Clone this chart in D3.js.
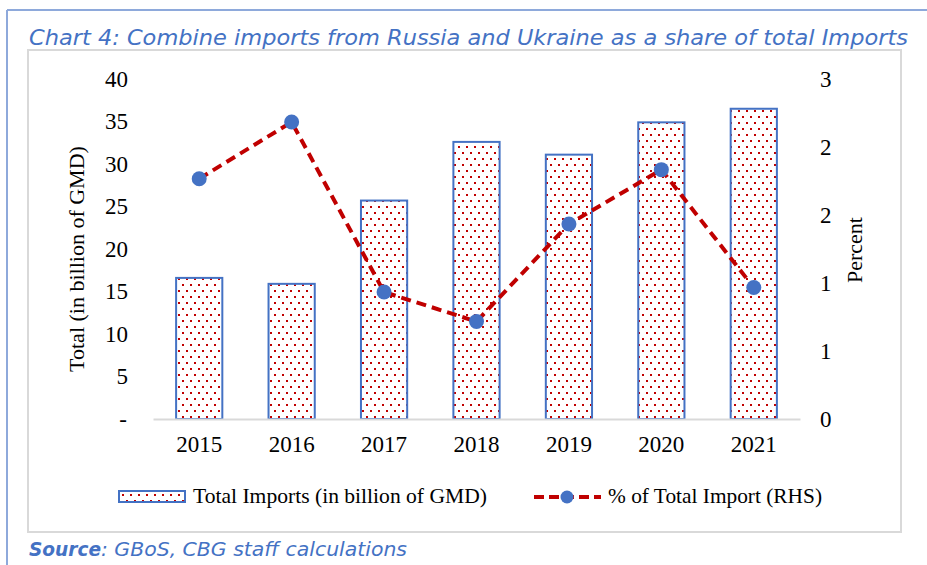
<!DOCTYPE html>
<html>
<head>
<meta charset="utf-8">
<script src="https://cdn.jsdelivr.net/npm/d3@7"></script>
<style>
  body { margin: 0; background: #fff; }
  svg { display: block; }
</style>
</head>
<body>
<svg id="wrapper"></svg>
<script>
//chart data
let years = ['2015','2016','2017','2018','2019','2020','2021'];
let totalImports = [16.6, 15.9, 25.7, 32.6, 31.1, 34.9, 36.5];
let shareImports = [2.12, 2.62, 1.12, 0.86, 1.72, 2.20, 1.16];
let leftTicks = [0,5,10,15,20,25,30,35,40];
let rightTicks = [0,0.6,1.2,1.8,2.4,3.0];

let width = 927, height = 565;
let blue = '#4472C4', red = '#C00000', grey = '#D9D9D9';
let serif = '"Liberation Serif","Times New Roman",serif';

let svg = d3.select('#wrapper')
  .attr('width',width)
  .attr('height',height);

//dotted fill pattern for bars
let defs = svg.append('defs');
let pat = defs.append('pattern')
  .attr('id','dots')
  .attr('patternUnits','userSpaceOnUse')
  .attr('width',8)
  .attr('height',12);
pat.append('rect').attr('width',8).attr('height',12).attr('fill','#fff');
pat.append('rect').attr('x',2).attr('y',2).attr('width',2).attr('height',2).attr('fill',red);
pat.append('rect').attr('x',6).attr('y',8).attr('width',2).attr('height',2).attr('fill',red);

//outer frame lines
svg.append('line')
  .attr('x1',7).attr('x2',width).attr('y1',10).attr('y2',10)
  .attr('stroke','#8EA9DB').attr('stroke-width',2);
svg.append('line')
  .attr('x1',7).attr('x2',7).attr('y1',10).attr('y2',height)
  .attr('stroke','#8EA9DB').attr('stroke-width',2);

//inner chart box
svg.append('rect')
  .attr('x',28).attr('y',50).attr('width',873).attr('height',482)
  .attr('fill','#fff').attr('stroke',grey).attr('stroke-width',2);

//title
svg.append('text')
  .attr('x',29).attr('y',45)
  .attr('textLength',879).attr('lengthAdjust','spacingAndGlyphs')
  .style('font-family','"DejaVu Sans",sans-serif')
  .style('font-style','italic')
  .style('font-size','21px')
  .attr('fill',blue)
  .text('Chart 4: Combine imports from Russia and Ukraine as a share of total Imports');

//source
let src = svg.append('text')
  .attr('x',29).attr('y',556)
  .style('font-family','"DejaVu Sans",sans-serif')
  .style('font-style','italic')
  .style('font-size','19px')
  .attr('fill',blue);
src.append('tspan').style('font-weight','bold')
  .attr('textLength',72).attr('lengthAdjust','spacingAndGlyphs').text('Source');
src.append('tspan')
  .attr('textLength',306).attr('lengthAdjust','spacingAndGlyphs')
  .text(': GBoS, CBG staff calculations');

//scales
let xScale = d3.scaleBand()
  .domain(years)
  .range([153,800])
  .paddingInner(0.5)
  .paddingOuter(0.25);

let yLeft = d3.scaleLinear().domain([0,40]).range([419,79]);
let yRight = d3.scaleLinear().domain([0,3]).range([419,79]);

//bars
svg.append('g').selectAll('rect')
  .data(years)
  .join('rect')
  .attr('x',function(d){return xScale(d)})
  .attr('y',function(d,i){return yLeft(totalImports[i])})
  .attr('width',xScale.bandwidth())
  .attr('height',function(d,i){return yLeft(0) - yLeft(totalImports[i])})
  .attr('fill','url(#dots)')
  .attr('stroke',blue)
  .attr('stroke-width',2);

//x axis
let xAxis = d3.axisBottom(xScale).tickSize(0).tickPadding(17);
let gx = svg.append('g')
  .attr('transform','translate(0,'+yLeft(0)+')')
  .call(xAxis);
gx.select('.domain').attr('stroke',grey).attr('stroke-width',2);
gx.selectAll('text').style('font-family',serif).style('font-size','23px').attr('fill','#000');

//left axis
let gl = svg.append('g')
  .attr('transform','translate(128,0)')
  .call(d3.axisLeft(yLeft).tickValues(leftTicks).tickSize(0).tickPadding(0)
    .tickFormat(function(d){return d === 0 ? '-' : d}));
gl.select('.domain').remove();
gl.selectAll('text').style('font-family',serif).style('font-size','23px').attr('fill','#000')
  .attr('dx',function(d){return d === 0 ? -1 : 0});

//right axis
let gr = svg.append('g')
  .attr('transform','translate(820,0)')
  .call(d3.axisRight(yRight).tickValues(rightTicks).tickSize(0).tickPadding(0)
    .tickFormat(d3.format('.0f')));
gr.select('.domain').remove();
gr.selectAll('text').style('font-family',serif).style('font-size','23px').attr('fill','#000');

//axis titles
svg.append('text')
  .attr('transform','translate(84,259) rotate(-90)')
  .attr('text-anchor','middle')
  .style('font-family',serif).style('font-size','22px')
  .text('Total (in billion of GMD)');
svg.append('text')
  .attr('transform','translate(862,250) rotate(-90)')
  .attr('text-anchor','middle')
  .style('font-family',serif).style('font-size','22px')
  .text('Percent');

//share line
let line = d3.line()
  .x(function(d,i){return xScale(years[i]) + xScale.bandwidth()/2})
  .y(function(d){return yRight(d)});

svg.append('path')
  .datum(shareImports)
  .attr('d',line)
  .attr('fill','none')
  .attr('stroke',red)
  .attr('stroke-width',4)
  .attr('stroke-dasharray','10,6');

svg.append('g').selectAll('circle')
  .data(shareImports)
  .join('circle')
  .attr('cx',function(d,i){return xScale(years[i]) + xScale.bandwidth()/2})
  .attr('cy',function(d){return yRight(d)})
  .attr('r',7.5)
  .attr('fill',blue);

//legend
let leg = svg.append('g');
leg.append('rect')
  .attr('x',119).attr('y',491).attr('width',66).attr('height',11)
  .attr('fill','url(#dots)').attr('stroke',blue).attr('stroke-width',2);
leg.append('text')
  .attr('x',193).attr('y',503)
  .attr('textLength',294).attr('lengthAdjust','spacingAndGlyphs')
  .style('font-family',serif).style('font-size','21px')
  .text('Total Imports (in billion of GMD)');
leg.append('line')
  .attr('x1',534).attr('x2',601).attr('y1',497).attr('y2',497)
  .attr('stroke',red).attr('stroke-width',4).attr('stroke-dasharray','10,5');
leg.append('circle')
  .attr('cx',567).attr('cy',497).attr('r',6.5).attr('fill',blue);
leg.append('text')
  .attr('x',608).attr('y',503)
  .attr('textLength',214).attr('lengthAdjust','spacingAndGlyphs')
  .style('font-family',serif).style('font-size','21px')
  .text('% of Total Import (RHS)');
</script>
</body>
</html>
